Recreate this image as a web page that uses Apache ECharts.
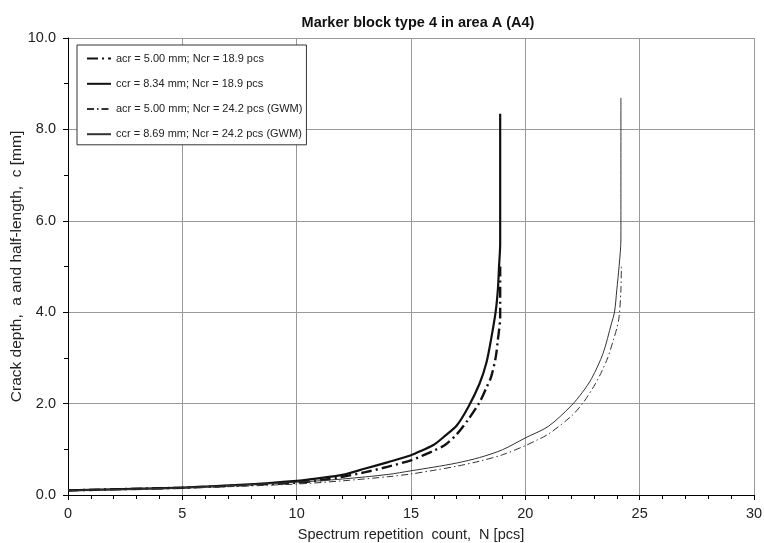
<!DOCTYPE html>
<html>
<head>
<meta charset="utf-8">
<script src="https://cdn.jsdelivr.net/npm/echarts@6/dist/echarts.min.js"></script>
<style>
    html, body { margin: 0; padding: 0; background: #fff; }
    #myChart { width: 764px; height: 543px; }
</style>
</head>
<body>
<div id="myChart"></div>
<script>
// acr = 5.00 mm; Ncr = 18.9 pcs
var nAcr1 = [0, 2.5, 5, 7.5, 10, 11, 12, 13, 14, 15, 15.5, 16, 16.5, 17, 17.5, 18, 18.3, 18.5, 18.7, 18.8, 18.9, 18.9];
var aAcr1 = [0.10, 0.13, 0.16, 0.21, 0.27, 0.32, 0.40, 0.50, 0.62, 0.76, 0.86, 0.97, 1.10, 1.33, 1.65, 2.03, 2.35, 2.58, 3.00, 3.40, 3.90, 5.00];
// ccr = 8.34 mm; Ncr = 18.9 pcs
var nCcr1 = [0, 2.5, 5, 7.5, 10, 11, 12, 13, 14, 15, 15.5, 16, 16.5, 17, 17.5, 18, 18.3, 18.5, 18.7, 18.8, 18.85, 18.9, 18.9];
var aCcr1 = [0.10, 0.13, 0.16, 0.22, 0.31, 0.37, 0.44, 0.58, 0.72, 0.87, 0.98, 1.10, 1.30, 1.52, 1.92, 2.44, 2.90, 3.40, 4.00, 4.50, 5.00, 5.50, 8.34];
// acr = 5.00 mm; Ncr = 24.2 pcs (GWM)
var nAcr2 = [0, 5, 10, 12, 14, 15, 16, 17, 18, 19, 20, 20.5, 21, 22, 22.5, 23, 23.3, 23.6, 23.85, 24.0, 24.1, 24.18, 24.2];
var aAcr2 = [0.10, 0.15, 0.24, 0.31, 0.40, 0.46, 0.54, 0.63, 0.74, 0.88, 1.08, 1.20, 1.33, 1.72, 2.00, 2.38, 2.66, 3.00, 3.39, 3.65, 3.90, 4.49, 5.00];
// ccr = 8.69 mm; Ncr = 24.2 pcs (GWM)
var nCcr2 = [0, 5, 10, 12, 14, 15, 16, 17, 18, 19, 20, 21, 22, 22.5, 22.9, 23.4, 23.77, 23.9, 24.0, 24.1, 24.18, 24.18];
var aCcr2 = [0.10, 0.16, 0.28, 0.35, 0.45, 0.53, 0.61, 0.70, 0.82, 0.99, 1.25, 1.50, 1.95, 2.25, 2.55, 3.10, 3.76, 4.00, 4.49, 5.00, 5.60, 8.69];

var names = ['acr = 5.00 mm; Ncr = 18.9 pcs', 'ccr = 8.34 mm; Ncr = 18.9 pcs',
             'acr = 5.00 mm; Ncr = 24.2 pcs (GWM)', 'ccr = 8.69 mm; Ncr = 24.2 pcs (GWM)'];

function pairs(n, a) {
    var out = [];
    for (var i = 0; i < n.length; i++) out.push([n[i], a[i]]);
    return out;
}

function line(name, data, width, dash, color) {
    return {
        name: name,
        type: 'line',
        data: data,
        symbol: 'none',
        smooth: 0.3,
        animation: false,
        lineStyle: { color: color, width: width, type: dash },
        itemStyle: { color: color }
    };
}

var myChart = echarts.init(document.getElementById('myChart'));
var font = 'Liberation Sans, Arial, sans-serif';
myChart.setOption({
    animation: false,
    textStyle: { fontFamily: font },
    title: {
        text: 'Marker block type 4 in area A (A4)',
        left: 413, top: 10, textAlign: 'center',
        textStyle: { fontSize: 14.5, fontWeight: 'bold', color: '#111', fontFamily: font }
    },
    legend: {
        orient: 'vertical',
        left: 77, top: 45,
        padding: [8, 4, 5, 9],
        itemWidth: 24, itemHeight: 14, itemGap: 14,
        backgroundColor: '#fff',
        borderColor: '#333', borderWidth: 1, borderRadius: 0,
        // hide the round marker ECharts puts on line legend icons
        itemStyle: { opacity: 0 },
        textStyle: { fontSize: 11, color: '#222', fontFamily: font },
        data: names
    },
    // fixed plot box, don't let v6 shrink it to fit the axis names
    grid: { left: 68, right: 10, top: 38, bottom: 48, outerBoundsMode: 'none', containLabel: false },
    xAxis: {
        type: 'value', min: 0, max: 30, interval: 5,
        name: 'Spectrum repetition  count,  N [pcs]',
        nameLocation: 'middle', nameGap: 32,
        nameTextStyle: { fontSize: 14.5, color: '#222' },
        axisLine: { onZero: false, lineStyle: { color: '#000', width: 1 } },
        axisTick: { length: 5, lineStyle: { color: '#000' } },
        minorTick: { show: true, splitNumber: 5, length: 4, lineStyle: { color: '#000' } },
        axisLabel: { fontSize: 14.5, color: '#222', margin: 11 },
        splitLine: { show: true, lineStyle: { color: '#999', width: 1 } }
    },
    yAxis: {
        type: 'value', min: 0, max: 10, interval: 2,
        name: 'Crack depth,  a and half-length,  c [mm]',
        nameLocation: 'middle', nameGap: 43, nameMoveOverlap: false,
        nameTextStyle: { fontSize: 15.5, color: '#222' },
        axisLine: { show: true, lineStyle: { color: '#000', width: 1 } },
        axisTick: { show: true, length: 5, lineStyle: { color: '#000' } },
        minorTick: { show: true, splitNumber: 2, length: 4, lineStyle: { color: '#000' } },
        axisLabel: { fontSize: 14.5, color: '#222', margin: 12, formatter: function (v) { return v.toFixed(1); } },
        splitLine: { show: true, lineStyle: { color: '#999', width: 1 } }
    },
    series: [
        line(names[0], pairs(nAcr1, aAcr1), 2.4, [11, 4, 2, 4], '#111'),
        line(names[1], pairs(nCcr1, aCcr1), 2.2, 'solid', '#111'),
        line(names[2], pairs(nAcr2, aAcr2), 1, [7, 3, 1.5, 3], '#333'),
        line(names[3], pairs(nCcr2, aCcr2), 1, 'solid', '#333'),
        // right border of the plot box
        {
            type: 'line', silent: true, data: [],
            markLine: {
                symbol: 'none', silent: true, animation: false, label: { show: false },
                lineStyle: { color: '#999', width: 1, type: 'solid' },
                data: [{ xAxis: 30 }]
            }
        }
    ]
});
</script>
</body>
</html>
